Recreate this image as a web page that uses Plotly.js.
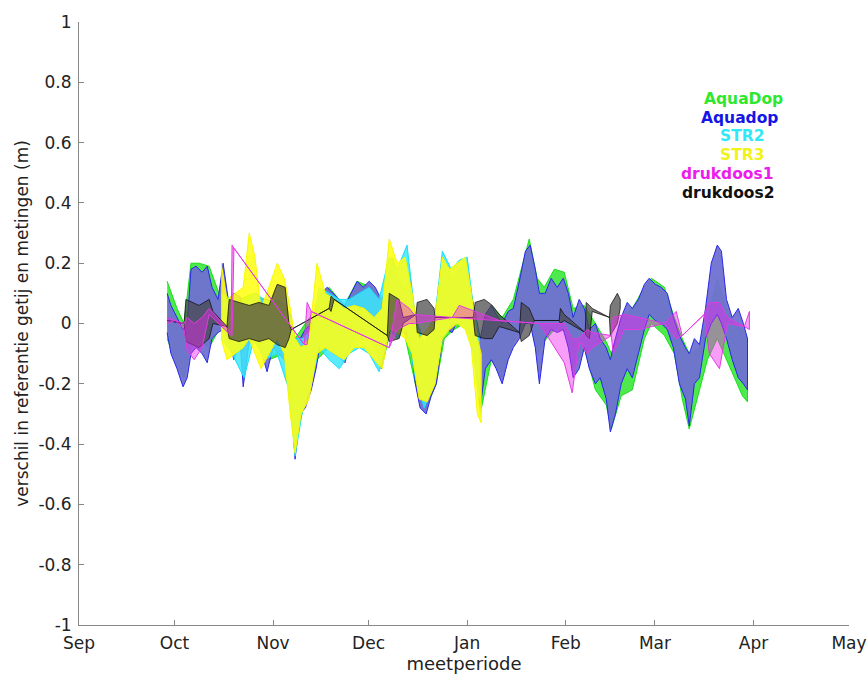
<!DOCTYPE html>
<html>
<head>
<meta charset="utf-8">
<script src="https://cdn.plot.ly/plotly-3.0.1.min.js"></script>
<style>html,body{margin:0;padding:0;background:#fff;}#chart{width:867px;height:680px;}</style>
</head>
<body>
<div id="chart"></div>
<script>
// Days are counted from 2008-09-01 (start of the x axis)
const monthTickDates = ['2008-09-01','2008-10-01','2008-11-01','2008-12-01','2009-01-01','2009-02-01','2009-03-01','2009-04-01','2009-05-01'];
const monthLabels = ['Sep','Oct','Nov','Dec','Jan','Feb','Mar','Apr','May'];
const yTickVals = [-1,-0.8,-0.6,-0.4,-0.2,0,0.2,0.4,0.6,0.8,1];
const yTickText = ['-1','-0.8','-0.6','-0.4','-0.2','0','0.2','0.4','0.6','0.8','1'];
const seriesNames = ['AquaDop','Aquadop','STR2','STR3','drukdoos1','drukdoos2'];

// AquaDop (green): envelope of the dense signal
const aquaDopDay = [27.7,30.8,33.0,35.2,37.7,40.9,44.0,47.2,50.3,55.0,
  59.7,64.5,67.9,71.1,74.8,78.6,83.3,87.4,91.8,95.3,
  98.4,102.2,105.7,109.1,112.3,114.8,117.9,121.1,124.2,126.1,
  129.6,133.0,136.5,139.0,141.5,144.0,146.2,149.4,152.5,155.3,
  158.8,162.3,165.7,167.3,170.4,173.9,177.7,179.9,184.0,187.1,
  189.6,191.8,195.0,197.5,200.6,203.5,206.0,208.5,210.1];
const aquaDopHi = [0.14,0.05,0.00,0.20,0.20,0.19,0.10,0.08,0.08,0.10,
  0.07,0.05,-0.05,0.00,0.05,0.12,0.06,0.14,0.12,0.08,
  0.22,0.12,0.00,-0.08,0.02,0.20,0.15,0.20,0.05,-0.05,
  0.06,0.02,0.08,0.18,0.28,0.15,0.12,0.18,0.17,0.05,
  0.06,0.00,-0.06,-0.10,0.02,0.05,0.12,0.15,0.12,0.02,
  -0.05,-0.10,-0.08,0.02,0.15,0.05,0.00,-0.02,-0.05];
const aquaDopLo = [-0.05,-0.14,-0.18,-0.08,-0.06,-0.08,-0.02,-0.04,-0.08,-0.06,
  -0.12,-0.10,-0.40,-0.25,-0.12,-0.08,-0.12,-0.04,-0.05,-0.14,
  0.00,-0.03,-0.20,-0.28,-0.20,-0.05,-0.02,0.00,-0.10,-0.30,
  -0.12,-0.18,-0.06,-0.02,0.02,-0.10,-0.06,-0.02,-0.02,-0.15,
  -0.08,-0.22,-0.27,-0.35,-0.24,-0.22,-0.05,0.00,-0.04,-0.10,
  -0.25,-0.35,-0.22,-0.12,-0.05,-0.12,-0.18,-0.24,-0.26];

// Aquadop (blue)
const aquadopDay = [27.7,28.9,30.8,32.7,34.0,35.2,36.8,38.7,40.3,41.8,
  43.7,45.3,46.9,48.7,50.6,51.6,53.5,55.7,57.5,59.1,
  61.0,62.9,64.5,66.4,67.9,69.5,71.1,73.0,74.5,76.1,
  78.0,79.9,81.8,83.6,85.5,87.4,89.3,91.2,93.1,95.0,
  96.9,98.4,100.3,102.2,104.1,105.7,107.2,109.1,110.7,112.3,
  114.2,115.7,117.3,119.2,121.1,122.6,124.5,126.1,127.7,129.6,
  131.1,133.0,134.9,136.5,138.4,140.3,141.8,143.4,144.7,146.5,
  148.4,150.3,152.2,153.8,155.3,157.2,158.8,160.4,162.3,163.8,
  165.7,167.0,168.6,170.4,172.3,173.9,175.8,177.7,179.2,181.1,
  183.0,184.9,186.8,188.7,190.6,191.8,193.4,195.0,196.9,198.7,
  200.6,201.9,203.5,205.3,207.2,208.8,210.1];
const aquadopHi = [0.10,0.06,0.02,-0.02,0.00,0.18,0.19,0.17,0.19,0.12,
  0.08,0.20,0.08,0.10,0.09,0.05,0.08,0.10,0.08,0.08,
  0.07,0.08,0.06,0.03,-0.05,-0.05,-0.02,0.00,0.05,0.10,
  0.12,0.10,0.08,0.06,0.10,0.14,0.12,0.14,0.12,0.08,
  0.12,0.20,0.14,0.10,0.15,0.00,-0.05,-0.08,0.00,0.02,
  0.20,0.17,0.12,0.18,0.19,0.14,0.03,-0.05,0.03,0.06,
  0.03,0.00,0.04,0.05,0.14,0.24,0.26,0.18,0.10,0.10,
  0.15,0.12,0.15,0.10,0.02,0.08,0.05,-0.02,0.00,-0.05,
  -0.08,-0.12,-0.05,0.02,0.07,0.05,0.08,0.13,0.15,0.13,
  0.12,0.10,0.02,-0.04,-0.08,-0.10,-0.05,-0.07,0.05,0.20,
  0.26,0.24,0.08,0.02,0.05,0.00,-0.05];
const aquadopLo = [-0.03,-0.10,-0.15,-0.21,-0.18,-0.10,-0.08,-0.10,-0.13,-0.05,
  -0.03,-0.02,-0.05,-0.12,-0.05,-0.21,-0.06,-0.05,-0.10,-0.16,
  -0.08,-0.10,-0.12,-0.20,-0.45,-0.30,-0.28,-0.22,-0.15,-0.05,
  -0.08,-0.10,-0.11,-0.13,-0.05,-0.03,-0.02,-0.04,-0.07,-0.15,
  -0.05,0.00,-0.02,-0.03,-0.05,-0.20,-0.28,-0.30,-0.24,-0.20,
  -0.05,-0.02,-0.03,0.02,0.00,-0.02,-0.10,-0.28,-0.15,-0.12,
  -0.15,-0.20,-0.12,-0.08,-0.05,0.00,0.00,-0.08,-0.20,-0.05,
  -0.02,-0.03,-0.02,-0.08,-0.18,-0.15,-0.08,-0.15,-0.20,-0.18,
  -0.25,-0.36,-0.30,-0.20,-0.15,-0.18,-0.10,-0.02,0.03,0.01,
  0.00,-0.02,-0.08,-0.20,-0.25,-0.34,-0.20,-0.18,-0.05,0.00,
  0.03,0.00,-0.05,-0.12,-0.18,-0.20,-0.22];

// STR2 (cyan)
const str2Day = [44.7,48.1,51.9,55.0,58.2,62.3,66.0,67.9,70.4,73.0,
  75.5,78.6,81.8,84.9,88.1,91.2,94.3,97.5,100.0,103.1,
  105.7,108.5,111.6,114.2,117.0,119.5,122.0,123.9,125.8];
const str2Hi = [0.10,0.08,0.07,0.10,0.08,0.06,0.03,-0.05,-0.05,-0.02,
  0.12,0.10,0.08,0.08,0.10,0.12,0.08,0.22,0.18,0.26,
  0.02,-0.06,0.00,0.24,0.18,0.21,0.22,0.06,-0.05];
const str2Lo = [-0.05,-0.10,-0.18,-0.05,-0.12,-0.10,-0.22,-0.44,-0.28,-0.20,
  -0.08,-0.12,-0.15,-0.10,-0.08,-0.10,-0.16,-0.02,-0.05,-0.02,
  -0.18,-0.28,-0.20,-0.05,0.00,0.00,-0.02,-0.10,-0.25];

// STR3 (yellow)
const str3Day = [44.7,46.5,49.1,51.6,53.5,55.3,57.2,59.7,62.3,64.5,
  66.4,67.9,69.8,72.3,74.8,77.4,80.2,83.3,86.5,89.6,
  92.8,95.3,97.5,100.0,102.5,104.7,106.9,109.4,111.9,114.2,
  116.4,118.9,121.4,123.3,125.2,126.4];
const str3Hi = [0.20,0.08,0.10,0.12,0.30,0.22,0.05,0.12,0.20,0.15,
  0.05,-0.05,-0.08,-0.05,0.20,0.10,0.08,0.05,0.06,0.05,
  0.02,0.05,0.28,0.20,0.22,0.10,-0.05,-0.02,0.02,0.22,
  0.18,0.20,0.22,0.10,-0.05,-0.10];
const str3Lo = [-0.05,-0.12,-0.10,-0.08,-0.05,-0.10,-0.15,-0.10,-0.05,-0.10,
  -0.30,-0.43,-0.30,-0.25,-0.10,-0.08,-0.10,-0.12,-0.08,-0.08,
  -0.12,-0.15,-0.02,-0.03,-0.05,-0.10,-0.25,-0.26,-0.20,-0.05,
  -0.02,0.00,-0.02,-0.08,-0.30,-0.33];

// drukdoos1 (magenta); equal hi/lo = single line across a data gap
const druk1Day = [27.7,30.2,33.0,34.0,36.2,38.7,40.9,47.8,48.1,48.7,
  70.8,71.7,73.0,97.5,100.0,103.8,105.3,117.3,119.5,132.1,
  144.7,152.5,155.0,157.2,159.7,161.3,167.3,167.9,171.4,176.1,
  184.0,187.7,189.6,196.5,198.1,201.3,203.8,209.1,210.7];
const druk1Hi = [0.02,0.01,0.00,0.02,0.00,0.02,0.05,-0.03,0.26,0.25,
  -0.07,0.07,0.04,-0.08,0.08,0.05,0.03,0.02,0.06,0.01,
  0.00,0.00,-0.05,-0.05,-0.02,-0.03,-0.04,0.02,0.03,0.02,
  0.00,0.04,-0.04,0.03,0.07,0.07,0.02,-0.01,0.04];
const druk1Lo = [0.00,0.01,-0.02,-0.09,-0.12,-0.08,0.03,-0.04,-0.04,0.25,
  -0.07,-0.07,0.04,-0.08,-0.02,0.00,0.00,0.02,0.02,0.01,
  0.00,-0.13,-0.23,-0.06,-0.10,-0.08,-0.04,-0.10,-0.02,-0.02,
  0.00,-0.05,-0.04,0.03,-0.10,-0.15,0.00,-0.01,-0.02];

// drukdoos2 (black)
const druk2Day = [27.7,33.0,33.6,37.7,40.9,42.1,46.5,47.2,50.3,53.5,
  56.6,59.7,62.3,64.8,66.0,66.7,78.6,79.2,80.2,96.9,
  97.5,100.6,101.9,105.9,106.3,109.4,111.6,111.9,123.9,124.5,
  127.4,129.9,132.1,138.4,139.0,141.5,143.1,150.9,151.3,152.5,
  159.1,159.4,160.4,161.3,166.7,167.0,169.2,170.1];
const druk2Hi = [0.01,0.00,0.08,0.06,0.08,0.04,-0.01,0.08,0.07,0.06,
  0.07,0.06,0.13,0.12,0.00,-0.02,0.05,0.09,0.08,-0.04,
  0.10,0.08,0.02,0.03,0.07,0.08,0.05,0.02,0.02,0.07,
  0.08,0.06,0.03,-0.03,0.07,0.05,0.01,0.01,0.05,0.03,
  -0.03,0.07,0.06,0.05,0.02,0.06,0.10,0.08];
const druk2Lo = [0.01,0.00,-0.06,-0.08,-0.05,0.00,-0.01,-0.05,-0.06,-0.05,
  -0.06,-0.05,-0.07,-0.08,-0.05,-0.02,0.05,0.04,0.08,-0.04,
  -0.06,-0.05,0.00,0.03,-0.03,-0.04,-0.02,0.02,0.02,-0.04,
  -0.05,-0.05,-0.01,-0.03,-0.06,-0.04,0.01,0.01,0.00,0.01,
  -0.03,-0.04,-0.05,0.04,0.02,-0.04,0.00,0.05];

const START = Date.UTC(2008, 8, 1);
function toDate(d) {
  return new Date(START + d * 86400000).toISOString().slice(0, 19).replace('T', ' ');
}
function band(days, hi, lo, name, fill, line, width) {
  const xs = days.map(toDate);
  return {
    type: 'scatter', mode: 'lines', name: name,
    x: xs.concat(xs.slice().reverse()),
    y: hi.concat(lo.slice().reverse()),
    fill: 'toself', fillcolor: fill,
    line: {color: line, width: width},
    hoverinfo: 'skip', showlegend: false
  };
}

const traces = [
  band(aquaDopDay, aquaDopHi, aquaDopLo, seriesNames[0], 'rgba(70,232,70,0.95)', 'rgb(20,225,20)', 1),
  band(aquadopDay, aquadopHi, aquadopLo, seriesNames[1], 'rgba(112,112,210,0.95)', 'rgb(40,40,230)', 1),
  band(str2Day, str2Hi, str2Lo, seriesNames[2], 'rgba(60,232,250,0.85)', 'rgb(20,225,250)', 1),
  band(str3Day, str3Hi, str3Lo, seriesNames[3], 'rgba(255,255,20,0.88)', 'rgb(248,248,0)', 1),
  band(druk2Day, druk2Hi, druk2Lo, seriesNames[5], 'rgba(70,70,70,0.72)', 'rgba(15,15,15,0.85)', 0.9),
  band(druk1Day, druk1Hi, druk1Lo, seriesNames[4], 'rgba(240,40,240,0.45)', 'rgb(225,60,225)', 1)
];

const legendColors = ['#2ee82e','#1515e6','#30e8f8','#f2f21a','#ec1cec','#111111'];
const legendPos = [[0.8636,0.8722],[0.8584,0.8412],[0.8604,0.8102],[0.8604,0.7792],[0.8422,0.7474],[0.8435,0.7164]];
const annotations = seriesNames.map((n, i) => ({
  text: '<b>' + n + '</b>', xref: 'paper', yref: 'paper',
  x: legendPos[i][0], y: legendPos[i][1], xanchor: 'center', yanchor: 'middle',
  showarrow: false, borderpad: 0,
  font: {family: 'DejaVu Sans, sans-serif', size: 15.5, color: legendColors[i]}
}));

const FONT = 'DejaVu Sans, Liberation Sans, sans-serif';
const tickFont = {family: FONT, size: 17, color: '#222'};
const layout = {
  width: 867, height: 680,
  margin: {l: 79, r: 18, t: 22, b: 55},
  paper_bgcolor: '#fff', plot_bgcolor: '#fff',
  showlegend: false,
  font: {family: FONT, color: '#222'},
  xaxis: {
    type: 'date', range: [monthTickDates[0], monthTickDates[8]],
    tickmode: 'array', tickvals: monthTickDates, ticktext: monthLabels,
    ticks: 'inside', ticklen: 5, tickcolor: '#888', showline: true, linecolor: '#888', linewidth: 1,
    showgrid: false, zeroline: false, tickfont: tickFont, ticklabelstandoff: 3,
    title: {text: 'meetperiode', font: {family: FONT, size: 18, color: '#222'}, standoff: 1}
  },
  yaxis: {
    range: [-1, 1], tickmode: 'array', tickvals: yTickVals, ticktext: yTickText,
    ticks: 'inside', ticklen: 5, tickcolor: '#888', showline: true, linecolor: '#888', linewidth: 1,
    showgrid: false, zeroline: false, tickfont: tickFont, ticklabelstandoff: 3,
    title: {text: 'verschil in referentie getij en metingen (m)', font: {family: FONT, size: 17, color: '#222'}, standoff: 5}
  },
  annotations: annotations
};

Plotly.newPlot('chart', traces, layout, {displayModeBar: false, staticPlot: true});
</script>
</body>
</html>
